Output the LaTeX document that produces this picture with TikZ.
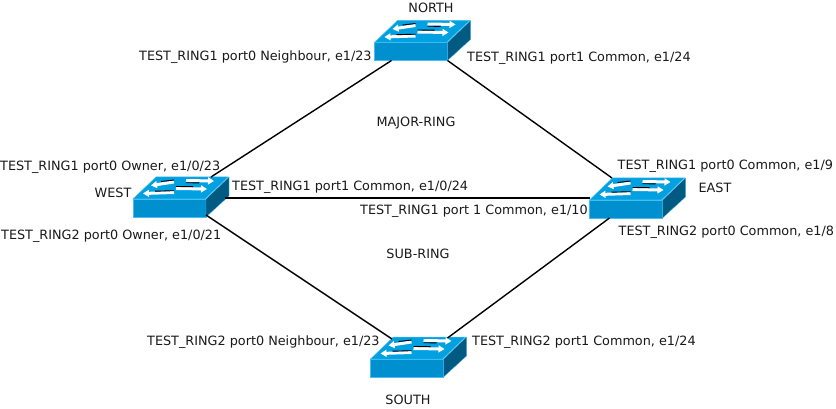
\documentclass[tikz,border=0pt]{standalone}
\usepackage{fontspec}
\setmainfont{DejaVu Sans}
\usetikzlibrary{arrows.meta}
\definecolor{switchfront}{RGB}{0,144,208}
\definecolor{switchtop}{RGB}{0,160,225}
\definecolor{switchside}{RGB}{0,90,130}
\definecolor{switchedge}{RGB}{70,190,240}
\definecolor{labelgray}{RGB}{25,25,25}
\newcommand{\SwitchIcon}[2]{
	\node[SwitchFront] (#1) at (#2) {};
	\filldraw[SwitchTopFace] (#1.north west) -- ++(23,-22) -- ++(72,0) -- ++(-23,22) -- cycle;
	\filldraw[SwitchSideFace] (#1.north east) -- ++(23,-22) -- ++(0,19) -- ++(-23,21) -- cycle;
	\begin{scope}[shift={(#1.north west)}]
		\draw[SwitchArrow] (41,-17) -- (18,-13.5);
		\draw[SwitchShadow] (41,-19) -- (28,-17.5);
		\draw[SwitchArrow] (53,-18.5) -- (81,-18);
		\draw[SwitchShadow] (53,-16.3) -- (66,-16.1);
		\draw[SwitchArrow] (41,-6.5) -- (10,-5.5);
		\draw[SwitchShadow] (41,-8.3) -- (22,-7.8);
		\draw[SwitchArrow] (43,-10.5) -- (74,-10);
		\draw[SwitchShadow] (43,-12.5) -- (60,-12.3);
	\end{scope}
}
\begin{document}
\begin{tikzpicture}[x=1pt,y=-1pt]
	\tikzset{
	  SwitchFront/.style = { rectangle, minimum width = 73pt, minimum height = 18pt,
	                         inner sep = 0pt, outer sep = 0pt, fill = switchfront,
	                         draw = switchedge, line width = 0.5pt },
	  SwitchTopFace/.style = { fill = switchtop, draw = switchedge, line width = 0.5pt },
	  SwitchSideFace/.style = { fill = switchside, draw = switchedge, line width = 0.3pt },
	  SwitchArrow/.style = { white, line width = 3pt, -{Triangle[length=6pt,width=7pt]} },
	  SwitchShadow/.style = { black, line width = 0.9pt },
	  PortLabel/.style = { anchor = west, inner sep = 0pt, text = labelgray,
	                       font = \fontsize{12.8pt}{15pt}\selectfont },
	  NameLabel/.style = { anchor = center, inner sep = 0pt, text = labelgray,
	                       font = \fontsize{12.8pt}{15pt}\selectfont },
	  RingLink/.style = { black, line width = 1.4pt }
	}
	\useasboundingbox (0,0) rectangle (836,409);
	\SwitchIcon{north}{411,51.5}
	\SwitchIcon{west}{169.5,208}
	\SwitchIcon{east}{626,209}
	\SwitchIcon{south}{407,368}
	% ring links
	\draw[RingLink] ([xshift=17pt]north.south west) -- ([xshift=5pt,yshift=22pt]west.north east);
	\draw[RingLink] (north.south east) -- ([xshift=-14pt,yshift=22pt]east.north);
	\draw[RingLink] ([yshift=2pt]west.south east) -- ([xshift=-15pt,yshift=20pt]south.north);
	\draw[RingLink] ([xshift=4pt,yshift=21pt]south.north east) -- ([xshift=20pt]east.south west);
	\draw[RingLink] ([xshift=19pt,yshift=1pt]west.north east) -- ([yshift=2pt]east.north west);
	% labels
	\node[NameLabel] (lnorth) at (431,8) {NORTH};
	\node[NameLabel] (lwest) at (113,193) {WEST};
	\node[NameLabel] (least) at (715,188) {EAST};
	\node[NameLabel] (lsouth) at (408,400) {SOUTH};
	\node[NameLabel] (lmajor) at (416,123) {MAJOR-RING};
	\node[NameLabel] (lsub) at (418,254) {SUB-RING};
	\node[PortLabel] (p1) at (139,57) {TEST\_RING1 port0 Neighbour, e1/23};
	\node[PortLabel] (p2) at (467,58) {TEST\_RING1 port1 Common, e1/24};
	\node[PortLabel] (p3) at (0,167) {TEST\_RING1 port0 Owner, e1/0/23};
	\node[PortLabel] (p4) at (232,187) {TEST\_RING1 port1 Common, e1/0/24};
	\node[PortLabel] (p5) at (360,211) {TEST\_RING1 port 1 Common, e1/10};
	\node[PortLabel] (p6) at (617.5,166) {TEST\_RING1 port0 Common, e1/9};
	\node[PortLabel] (p7) at (618.5,232) {TEST\_RING2 port0 Common, e1/8};
	\node[PortLabel] (p8) at (1,236) {TEST\_RING2 port0 Owner, e1/0/21};
	\node[PortLabel] (p9) at (147,342) {TEST\_RING2 port0 Neighbour, e1/23};
	\node[PortLabel] (p10) at (472,342) {TEST\_RING2 port1 Common, e1/24};
\end{tikzpicture}
\end{document}
